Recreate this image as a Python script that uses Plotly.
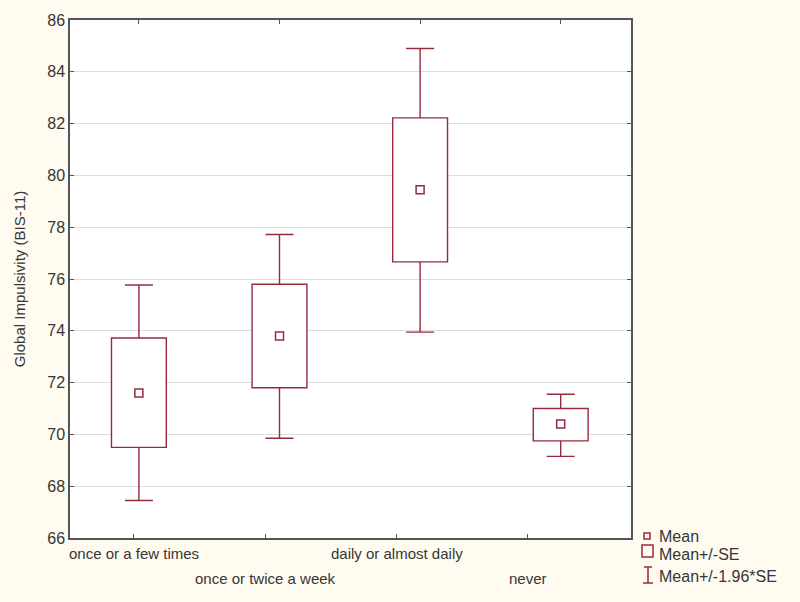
import plotly.graph_objects as go

categories = ["once or a few times", "once or twice a week", "daily or almost daily", "never"]
means = [71.6, 73.8, 79.45, 70.4]
se_low = [69.5, 71.8, 76.66, 69.75]
se_high = [73.72, 75.8, 82.22, 71.0]
ci_low = [67.45, 69.85, 73.95, 69.15]
ci_high = [75.77, 77.72, 84.9, 71.55]

# layout positions of the category labels on the bottom axis (Statistica-style offset)
label_pos = [-0.035, 0.9, 1.835, 2.765]

LINE = "#962B3C"
TXT = "#363636"
FONT = "Liberation Sans, Arial, sans-serif"

xs = list(range(len(categories)))

fig = go.Figure()
# whiskers: mean +/- 1.96*SE
fig.add_trace(go.Scatter(
    x=xs, y=means, mode="markers", marker=dict(size=1, color="rgba(0,0,0,0)"),
    error_y=dict(type="data", symmetric=False,
                 array=[h - m for h, m in zip(ci_high, means)],
                 arrayminus=[m - l for m, l in zip(means, ci_low)],
                 color=LINE, thickness=1.4, width=14),
    showlegend=False, hoverinfo="skip",
))
# boxes: mean +/- SE (on the overlay axis so they sit above the whiskers)
fig.add_trace(go.Bar(
    x=xs, y=[h - l for h, l in zip(se_high, se_low)], base=se_low, width=0.39,
    marker=dict(color="white", line=dict(color=LINE, width=1.4)),
    showlegend=False, hoverinfo="skip", xaxis="x2",
))
# means
fig.add_trace(go.Scatter(
    x=xs, y=means, mode="markers",
    marker=dict(symbol="square-open", size=8, color=LINE, line=dict(width=1.5, color=LINE)),
    showlegend=False, hoverinfo="skip", xaxis="x2",
))

xr = [-0.49, 3.5]
fig.update_layout(
    width=800, height=602,
    margin=dict(l=70, r=169, t=20, b=64),
    paper_bgcolor="#FFFBF0", plot_bgcolor="white",
    font=dict(family=FONT, size=15, color=TXT),
    showlegend=False,
    xaxis=dict(range=xr, tickvals=label_pos, ticktext=[""] * 4, ticks="inside", ticklen=4,
               tickcolor="#555", showgrid=False, zeroline=False, showline=True,
               linecolor="#555", linewidth=1.5, automargin=False),
    xaxis2=dict(range=xr, overlaying="x", side="top", tickvals=xs, ticktext=[""] * 4,
                ticks="inside", ticklen=4, tickcolor="#555", showgrid=False, zeroline=False,
                showline=True, linecolor="#555", linewidth=1.5, automargin=False),
    yaxis=dict(range=[66, 86], dtick=2, ticks="inside", ticklen=4, tickcolor="#555",
               showgrid=True, gridcolor="#DDDDDD", gridwidth=1, zeroline=False,
               showline=True, mirror="ticks", linecolor="#555", linewidth=1.5,
               tickfont=dict(size=16, color=TXT), automargin=False,
               title=dict(text="Global Impulsivity (BIS-11)", font=dict(size=15, color=TXT), standoff=18)),
)

# staggered category labels
for i, (p, c) in enumerate(zip(label_pos, categories)):
    fig.add_annotation(x=p, xref="x", y=0, yref="paper", text=c, showarrow=False,
                       yanchor="middle", yshift=-15 if i % 2 == 0 else -40,
                       font=dict(size=15, color=TXT))

# legend drawn manually (pixel positions converted to paper coords)
W, H = 800 - 70 - 169, 602 - 20 - 64
def px(x):
    return (x - 70) / W
def py(y):
    return (602 - 64 - y) / H

shapes = []
shapes.append(dict(type="rect", xref="paper", yref="paper", x0=px(644), x1=px(650), y0=py(539), y1=py(533),
                   line=dict(color=LINE, width=1.5)))
shapes.append(dict(type="rect", xref="paper", yref="paper", x0=px(642), x1=px(653), y0=py(557), y1=py(545),
                   line=dict(color=LINE, width=1.5)))
shapes.append(dict(type="line", xref="paper", yref="paper", x0=px(648), x1=px(648), y0=py(583), y1=py(567),
                   line=dict(color=LINE, width=1.5)))
shapes.append(dict(type="line", xref="paper", yref="paper", x0=px(644), x1=px(652), y0=py(567), y1=py(567),
                   line=dict(color=LINE, width=1.5)))
shapes.append(dict(type="line", xref="paper", yref="paper", x0=px(643), x1=px(653), y0=py(583), y1=py(583),
                   line=dict(color=LINE, width=1.5)))
fig.update_layout(shapes=shapes)

for txt, y in [("Mean", 536), ("Mean+/-SE", 554), ("Mean+/-1.96*SE", 576)]:
    fig.add_annotation(x=px(657), y=py(y), xref="paper", yref="paper", text=txt, showarrow=False,
                       xanchor="left", yanchor="middle", font=dict(size=16, color=TXT))

fig.write_html("out.html", config={"displayModeBar": False},
               post_script="document.body.style.margin='0';")
